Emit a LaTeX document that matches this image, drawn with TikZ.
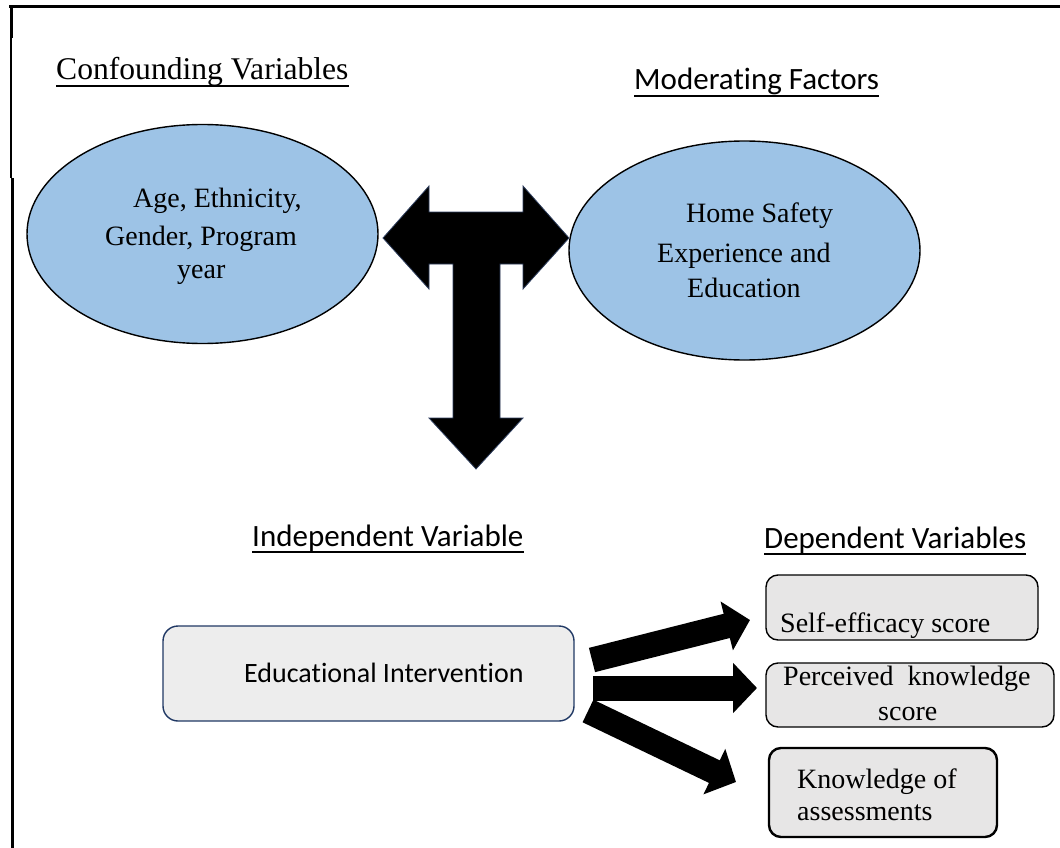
\documentclass[tikz,border=0pt]{standalone}
\usepackage{fontspec}
\setmainfont{Liberation Serif}
\newfontfamily\calibrifont[Ligatures=NoCommon]{Carlito}
\usetikzlibrary{arrows.meta,shapes.geometric}
\definecolor{ovalblue}{HTML}{9DC3E6}
\definecolor{boxgray}{HTML}{E7E6E6}
\definecolor{edugray}{HTML}{EDEDED}
\definecolor{navy}{HTML}{203864}
\definecolor{tedge}{HTML}{2F3F5F}
\begin{document}
\begin{tikzpicture}[x=1pt,y=-1pt,
  hdr/.style={font=\calibrifont\fontsize{31}{37}\selectfont, inner sep=0pt, anchor=base west},
  hdrserif/.style={font=\fontsize{31.6}{37}\selectfont, inner sep=0pt, anchor=base west},
  ln/.style={font=\fontsize{28}{34}\selectfont, inner sep=0pt, anchor=base west},
  edutext/.style={font=\calibrifont\fontsize{28}{34}\selectfont, inner sep=0pt, anchor=base west},
  oval/.style={ellipse, draw=black, line width=1.4pt, fill=ovalblue, inner sep=0pt,
               minimum width=351pt, minimum height=219pt},
  dvbox/.style={rectangle, rounded corners=12pt, draw=black, line width=1.4pt, fill=boxgray, inner sep=0pt},
  edubox/.style={rectangle, rounded corners=15pt, draw=navy, line width=1.4pt, fill=edugray, inner sep=0pt},
  uline/.style={line width=1.6pt},
  frame/.style={line width=3pt},
  bigarrow/.style={line width=25pt, -{Triangle[width=49pt,length=24pt]}},
  tshape/.style={fill=black, draw=tedge, line width=0.8pt, line join=miter}
]
\useasboundingbox (0,0) rectangle (1060,848);

% frame lines
\draw[frame] (9,7) -- (1060,7);
\draw[frame] (11.5,6) -- (11.5,38);
\draw[line width=1.4pt] (10.8,38) -- (10.8,178);
\draw[frame] (12.2,178) -- (12.2,848);

% headers
\node[hdrserif] (h1) at (56,80) {Confounding Variables};
\draw[uline] ([yshift=-6pt]h1.base west) -- ([yshift=-6pt]h1.base east);
\node[hdr] (h2) at (634,90) {Moderating Factors};
\draw[uline] ([yshift=-6pt]h2.base west) -- ([yshift=-6pt]h2.base east);
\node[hdr] (h3) at (252,546) {Independent Variable};
\draw[uline] ([yshift=-6pt]h3.base west) -- ([yshift=-6pt]h3.base east);
\node[hdr] (h4) at (764,548) {Dependent Variables};
\draw[uline] ([yshift=-6pt]h4.base west) -- ([yshift=-6pt]h4.base east);

% ellipses
\node[oval] (conf) at (202.5,234) {};
\node[ln] (c1) at (133,207) {Age, Ethnicity,};
\node[ln] (c2) at (105,245) {Gender, Program};
\node[ln] (c3) at (177,278) {year};

\node[oval] (mod) at (744.5,250.5) {};
\node[ln] (m1) at (686,222) {Home Safety};
\node[ln] (m2) at (657,262) {Experience and};
\node[ln] (m3) at (687,297) {Education};

% T-shaped arrow
\draw[tshape] (383,238) -- (429,186) -- (429,212) -- (523,212) -- (523,186) -- (569,238)
  -- (523,289) -- (523,264) -- (500,264) -- (500,418) -- (523,418) -- (476,469)
  -- (429,418) -- (453,418) -- (453,264) -- (429,264) -- (429,289) -- cycle;

% independent variable box
\node[edubox, minimum width=411pt, minimum height=95pt] (edu) at (368.5,673.5) {};
\node[edutext] (edut) at (244,682) {Educational Intervention};

% dependent variable boxes
\node[dvbox, minimum width=272pt, minimum height=65pt] (s1) at (902,607.5) {};
\node[ln] (s1t) at (780,632) {Self-efficacy score};

\node[dvbox, minimum width=288pt, minimum height=64pt] (s2) at (910,695) {};
\node[ln] (s2a) at (783,685) {Perceived\ \ knowledge};
\node[ln] (s2b) at (878,720) {score};

\node[dvbox, line width=2.4pt, minimum width=228pt, minimum height=89pt] (s3) at (883,792.5) {};
\node[ln] (s3a) at (797,788) {Knowledge of};
\node[ln] (s3b) at (797,820) {assessments};

% arrows
\coordinate (a1s) at (592,660);
\coordinate (a1e) at (750,620);
\coordinate (a2s) at (593,688);
\coordinate (a2e) at (757,688);
\coordinate (a3s) at (588,711);
\coordinate (a3e) at (736,782);
\draw[bigarrow] (a1s) -- (a1e);
\draw[bigarrow] (a2s) -- (a2e);
\draw[bigarrow] (a3s) -- (a3e);
\end{tikzpicture}
\end{document}
